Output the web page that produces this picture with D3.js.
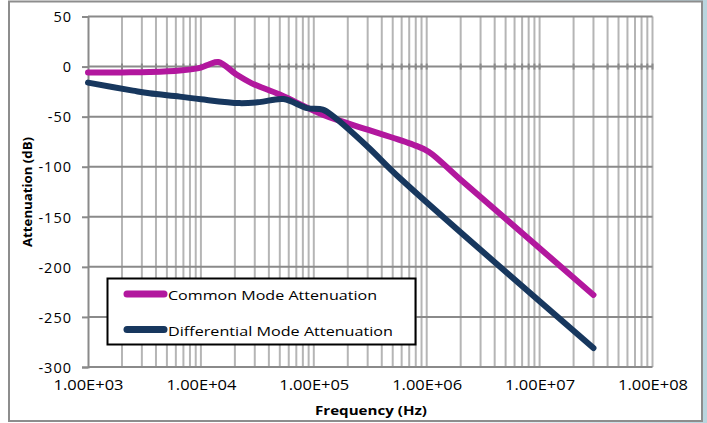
<!DOCTYPE html>
<html>
<head>
<meta charset="utf-8">
<script src="https://cdn.jsdelivr.net/npm/d3@7"></script>
<style>
	body { margin: 0; background: #fff; }
	svg text { font-family: "Open Sans", "DejaVu Sans", sans-serif; fill: #000; }
</style>
</head>
<body>
<div id="chart"></div>
<script>
"use strict";

const width = 707, height = 423;

//  Chart data
const decades = [1e3, 1e4, 1e5, 1e6, 1e7, 1e8];
const yTicks = [50, 0, -50, -100, -150, -200, -250, -300];

const cmFreq = [1e3, 2e3, 3.5e3, 6.5e3, 1e4, 1.2e4, 1.43e4, 2.1e4, 2.8e4, 5e4, 1.2e5, 3e5, 7.6e5, 1.04e6, 2e6, 3e7];
const cmAtt  = [-6, -5.8, -5.5, -4, -1, 2.5, 4.5, -8.5, -16.5, -28, -48, -63, -78, -85, -113, -228];

const dmFreq = [1e3, 2.5e3, 3.5e3, 6.5e3, 1e4, 2.2e4, 3.3e4, 5.4e4, 8.7e4, 1.2e5, 1.5e5, 3e5, 5.8e5, 3e7];
const dmAtt  = [-16, -24, -26.7, -30, -32.7, -36.5, -35.5, -32.4, -41.5, -43, -50, -80, -111.5, -281];

const seriesNames = ['Common Mode  Attenuation', 'Differential Mode Attenuation'];
const seriesColors = ['#b2179e', '#17375e'];

//  Scales
const x = d3.scaleLog().domain([1e3, 1e8]).range([88, 652.5]);
const y = d3.scaleLinear().domain([-300, 50]).range([367, 16.5]);

const svg = d3.select('#chart').append('svg')
	.attr('width', width)
	.attr('height', height);

//  Slide background peeking outside the frame
const grad = svg.append('defs').append('linearGradient')
	.attr('id', 'bg').attr('x1', 0).attr('x2', 1).attr('y1', 0).attr('y2', 0);
grad.append('stop').attr('offset', 0).attr('stop-color', '#ffffff');
grad.append('stop').attr('offset', 1).attr('stop-color', '#b9d5de');
svg.append('rect').attr('x', 400).attr('y', 0).attr('width', 307).attr('height', 423).attr('fill', 'url(#bg)');
svg.append('rect').attr('x', 9).attr('y', 1.5).attr('width', 693).attr('height', 419.5)
	.attr('fill', '#fff').attr('stroke', '#8d8d8d').attr('stroke-width', 2);

//  Grid
const grid = svg.append('g');
grid.selectAll('.vgrid')
	.data(x.ticks().filter(f => f > 1e3))
	.join('line')
		.attr('x1', f => x(f)).attr('x2', f => x(f))
		.attr('y1', y(50)).attr('y2', y(-300))
		.attr('stroke', '#b5b5b5')
		.attr('stroke-width', 2);

grid.selectAll('.hgrid')
	.data(yTicks)
	.join('line')
		.attr('x1', x(1e3)).attr('x2', x(1e8))
		.attr('y1', v => y(v)).attr('y2', v => y(v))
		.attr('stroke', '#8a8a8a')
		.attr('stroke-width', 2);

//  x tick marks sit on the 0 dB line
grid.selectAll('.xtick')
	.data(x.ticks().filter(f => f > 1e3))
	.join('line')
		.attr('x1', f => x(f)).attr('x2', f => x(f))
		.attr('y1', y(0) - 3).attr('y2', y(0) + 3)
		.attr('stroke', '#8a8a8a')
		.attr('stroke-width', 2);

//  Axes
const yAxis = svg.append('g')
	.attr('transform', `translate(${x(1e3)},0)`)
	.call(d3.axisLeft(y).tickValues(yTicks).tickSize(6).tickPadding(10).tickFormat(d3.format('d')));
yAxis.select('.domain').attr('stroke', '#8a8a8a').attr('stroke-width', 2);
yAxis.selectAll('.tick line').attr('stroke', '#8a8a8a').attr('stroke-width', 2);
yAxis.selectAll('.tick text')
	.attr('font-size', 14.5)
	.attr('letter-spacing', 1)
	.attr('dy', '0.36em')
	.text(v => String(v));

const xFormat = f => '1.00E+' + String(Math.round(Math.log10(f))).padStart(2, '0');
const xAxis = svg.append('g')
	.attr('transform', `translate(0,${y(-300)})`)
	.call(d3.axisBottom(x).tickValues(decades).tickSize(0).tickPadding(15).tickFormat(xFormat));
xAxis.select('.domain').remove();
xAxis.selectAll('.tick text')
	.attr('font-size', 14)
	.attr('dy', '0.55em')
	.attr('textLength', 70)
	.attr('lengthAdjust', 'spacingAndGlyphs');

//  Axis titles
svg.append('text')
	.attr('x', 371).attr('y', 415)
	.attr('text-anchor', 'middle')
	.attr('font-size', 12.5).attr('font-weight', 'bold')
	.attr('textLength', 112).attr('lengthAdjust', 'spacingAndGlyphs')
	.text('Frequency (Hz)');

svg.append('text')
	.attr('transform', 'translate(32,192) rotate(-90)')
	.attr('text-anchor', 'middle')
	.attr('font-size', 12.5).attr('font-weight', 'bold')
	.attr('textLength', 110).attr('lengthAdjust', 'spacingAndGlyphs')
	.text('Attenuation (dB)');

//  Series
const series = [
	cmFreq.map((f, i) => ({ f: f, v: cmAtt[i] })),
	dmFreq.map((f, i) => ({ f: f, v: dmAtt[i] }))
];

const line = d3.line()
	.x(d => x(d.f))
	.y(d => y(d.v))
	.curve(d3.curveCatmullRom.alpha(0.5));

svg.selectAll('.series')
	.data(series)
	.join('path')
		.attr('d', line)
		.attr('fill', 'none')
		.attr('stroke', (d, i) => seriesColors[i])
		.attr('stroke-width', 6)
		.attr('stroke-linecap', 'round')
		.attr('stroke-linejoin', 'round');

//  Legend
const legend = svg.append('g');
legend.append('rect')
	.attr('x', 107.5).attr('y', 278.5)
	.attr('width', 308).attr('height', 66)
	.attr('fill', '#fff')
	.attr('stroke', '#000')
	.attr('stroke-width', 2);

const legendRows = legend.selectAll('.row')
	.data(seriesNames)
	.join('g')
		.attr('transform', (d, i) => `translate(0,${i ? 329.5 : 294})`);

legendRows.append('line')
	.attr('x1', 127).attr('x2', 164)
	.attr('stroke', (d, i) => seriesColors[i])
	.attr('stroke-width', 7)
	.attr('stroke-linecap', 'round');

legendRows.append('text')
	.attr('x', 168).attr('y', 6)
	.attr('font-size', 13.5)
	.attr('textLength', (d, i) => i ? 225 : 209)
	.attr('lengthAdjust', 'spacingAndGlyphs')
	.text(d => d);
</script>
</body>
</html>
